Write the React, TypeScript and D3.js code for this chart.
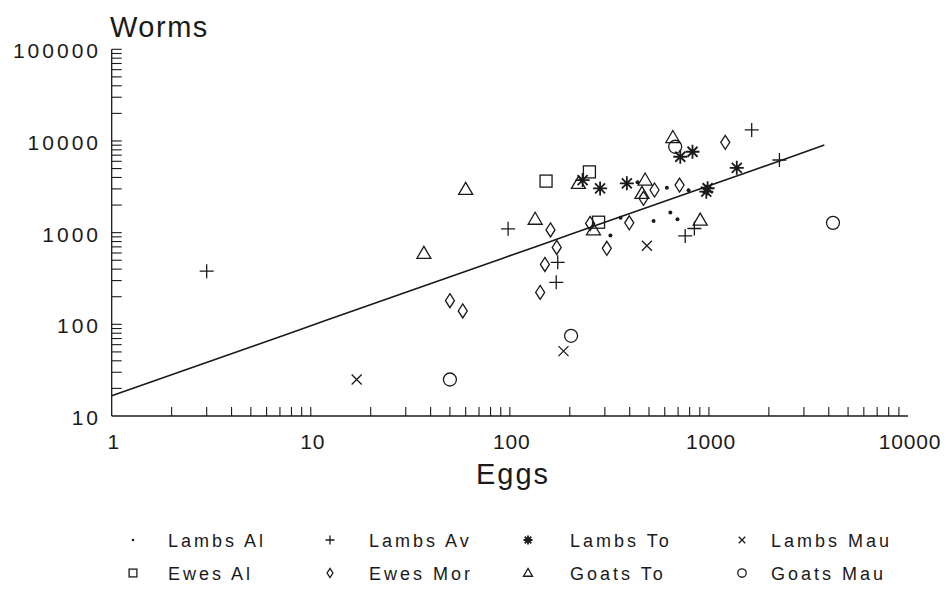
import React from 'react'
import * as d3 from 'd3'

// values (eggs, worms)
const lambsAl = [[320, 930], [360, 1450], [438, 3540], [527, 1340], [615, 3090], [640, 1660], [695, 1400], [790, 2900]]
const lambsAv = [[3, 380], [98, 1100], [174, 475], [171, 287], [760, 920], [845, 1110], [1640, 13200], [2260, 6200]]
const lambsTo = [[232, 3750], [284, 3040], [387, 3450], [718, 6730], [827, 7630], [1380, 5100], [985, 3050], [970, 2800]]
const lambsMau = [[17, 25], [186, 51], [488, 720]]
const ewesAl = [[152, 3650], [251, 4600], [279, 1300]]
const ewesMor = [[50, 181], [58, 140], [142, 223], [150, 450], [160, 1070], [172, 690], [253, 1260], [307, 675], [398, 1280], [469, 2370], [533, 2920], [712, 3300], [1208, 9660]]
const goatsTo = [[37, 594], [60, 2970], [134, 1400], [221, 3450], [263, 1070], [461, 2680], [478, 3750], [659, 10900], [904, 1370]]
const goatsMau = [[50, 25], [203, 75], [677, 8650], [4200, 1280]]

const groups = [
  { name: 'Lambs Al', shape: 'dot', data: lambsAl },
  { name: 'Lambs Av', shape: 'plus', data: lambsAv },
  { name: 'Lambs To', shape: 'star', data: lambsTo },
  { name: 'Lambs Mau', shape: 'cross', data: lambsMau },
  { name: 'Ewes Al', shape: 'square', data: ewesAl },
  { name: 'Ewes Mor', shape: 'diamond', data: ewesMor },
  { name: 'Goats To', shape: 'triangle', data: goatsTo },
  { name: 'Goats Mau', shape: 'circle', data: goatsMau },
]

// fitted line: worms = a * eggs^b
const fitA = 16.6
const fitB = 0.764
const fitRange = [1, 3800]

const xTicks = [1, 10, 100, 1000, 10000]
const yTicks = [10, 100, 1000, 10000, 100000]

const ink = '#1a1a1a'
const font = 'Liberation Sans, Arial, sans-serif'

const Marker = ({ shape, s = 1 }: { shape: string; s?: number }) => {
  const sw = 1.3
  if (shape === 'dot') return <circle r={2 * s} fill={ink} />
  if (shape === 'circle') return <circle r={6.5 * s} fill="none" stroke={ink} strokeWidth={sw} />
  if (shape === 'square') return <rect x={-6 * s} y={-6 * s} width={12 * s} height={12 * s} fill="none" stroke={ink} strokeWidth={sw} />
  const p: Record<string, string> = {
    plus: 'M-7,0H7M0,-7V7',
    cross: 'M-5,-5L5,5M-5,5L5,-5',
    diamond: 'M0,-7L4.5,0L0,7L-4.5,0Z',
    triangle: 'M0,-7L7,5H-7Z',
    star: 'M-7,0H7M0,-7V7M-5,-5L5,5M-5,5L5,-5',
  }
  return (
    <path d={p[shape]} transform={`scale(${s})`} fill="none" stroke={ink}
      strokeWidth={shape === 'star' ? 1.8 / s : sw / s} strokeLinejoin="miter" />
  )
}

const App = () => {
  const width = 946
  const height = 591
  const x = d3.scaleLog().domain([1, 10000]).range([111.7, 908])
  const y = d3.scaleLog().domain([10, 100000]).range([416, 49.3])

  const minor = (lo: number, hi: number) => {
    const out: number[] = []
    for (let d = lo; d < hi; d *= 10) for (let k = 2; k <= 9; k++) out.push(d * k)
    return out
  }
  const xMinor = [...minor(1, 10000), 10, 100, 1000]
  const yMinor = [...minor(10, 100000), 100, 1000, 10000, 100000]

  const fitLine = d3.line<number>().x(d => x(d)).y(d => y(fitA * Math.pow(d, fitB)))
  const fitPts = d3.range(0, 21).map(i => fitRange[0] * Math.pow(fitRange[1] / fitRange[0], i / 20))

  const legX = [133, 330, 528, 742]
  const legTx = [168, 369, 570, 771]
  const legY = [545, 578]

  return (
    <svg width={width} height={height} style={{ position: 'absolute', left: 0, top: 0, background: '#fff' }}>
      <rect width={width} height={height} fill="#fff" />
      {/* axes */}
      <line x1={x(1)} x2={x(10000)} y1={y(10)} y2={y(10)} stroke={ink} strokeWidth={1.3} />
      <line x1={x(1)} x2={x(1)} y1={y(10)} y2={y(100000)} stroke={ink} strokeWidth={1.3} />
      {xMinor.map((t, i) => (
        <line key={'xm' + i} x1={x(t)} x2={x(t)} y1={y(10)} y2={y(10) - 9} stroke={ink} strokeWidth={1.1} />
      ))}
      {yMinor.map((t, i) => (
        <line key={'ym' + i} x1={x(1)} x2={x(1) + 10} y1={y(t)} y2={y(t)} stroke={ink} strokeWidth={1.1} />
      ))}
      {xTicks.map(t => (
        <text key={'xt' + t} x={x(t) + 2} y={449} textAnchor="middle" fontFamily={font} fontSize={21}
          letterSpacing={0.8} fill={ink}>{t}</text>
      ))}
      {yTicks.map(t => (
        <text key={'yt' + t} x={101} y={y(t) + 9} textAnchor="end" fontFamily={font} fontSize={21}
          letterSpacing={3} fill={ink}>{t}</text>
      ))}
      <text x={110} y={37} fontFamily={font} fontSize={29} letterSpacing={1.5} fill={ink}>Worms</text>
      <text x={476} y={484} fontFamily={font} fontSize={29} letterSpacing={2} fill={ink}>Eggs</text>

      {/* fitted line */}
      <path d={fitLine(fitPts) || ''} fill="none" stroke={ink} strokeWidth={1.6} />

      {/* points */}
      {groups.map(g => g.data.map((d, i) => (
        <g key={g.name + i} transform={`translate(${x(d[0])},${y(d[1])})`}>
          <Marker shape={g.shape} />
        </g>
      )))}

      {/* legend */}
      {groups.map((g, i) => {
        const cx = legX[i % 4]
        const cy = legY[Math.floor(i / 4)]
        return (
          <g key={'lg' + i}>
            <g transform={`translate(${cx},${cy - 5})`}><Marker shape={g.shape} s={0.65} /></g>
            <text x={legTx[i % 4]} y={cy + 2} fontFamily={font} fontSize={18} letterSpacing={3} fill={ink}>{g.name}</text>
          </g>
        )
      })}
    </svg>
  )
}

export default App
